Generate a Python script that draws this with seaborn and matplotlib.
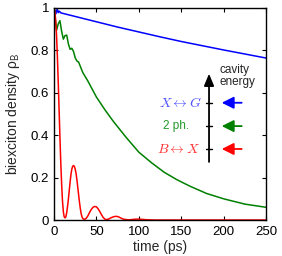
import matplotlib
matplotlib.use("Agg")
import matplotlib.pyplot as plt
import seaborn as sns

# values
t_red = [0, 1, 2, 3, 4, 5, 6, 7, 8, 9, 10, 11, 12, 13, 14, 15, 16, 17, 18, 19,
         20, 21, 22, 23, 24, 25, 26, 27, 28, 29, 30, 31, 32, 33, 34, 35, 36.5,
         38, 40, 42, 44, 46, 48, 50, 52, 54, 56, 58, 60, 62, 64, 66, 68, 70, 72,
         74, 76, 78, 80, 82, 85, 88, 92, 96, 100, 104, 110, 120, 250]
rho_red = [1.0, 0.985, 0.94, 0.87, 0.77, 0.65, 0.52, 0.39, 0.27, 0.17, 0.09,
           0.04, 0.015, 0.01, 0.015, 0.035, 0.065, 0.10, 0.14, 0.18, 0.215,
           0.24, 0.253, 0.257, 0.253, 0.24, 0.22, 0.19, 0.155, 0.12, 0.085,
           0.055, 0.03, 0.015, 0.007, 0.004, 0.004, 0.008, 0.02, 0.036, 0.05,
           0.06, 0.064, 0.062, 0.053, 0.04, 0.025, 0.012, 0.004, 0.002, 0.004,
           0.008, 0.012, 0.015, 0.017, 0.017, 0.015, 0.011, 0.007, 0.004,
           0.002, 0.001, 0.002, 0.004, 0.004, 0.003, 0.001, 0.0, 0.0]

t_green = [0, 1.5, 3, 5, 7, 9, 11, 13, 15, 17, 19, 21, 23, 25, 27, 29, 31, 34,
           37, 40, 42, 50, 60, 70, 78, 85, 100, 115, 130, 145, 160, 180, 200,
           225, 250]
rho_green = [1.0, 0.95, 0.895, 0.925, 0.94, 0.89, 0.853, 0.87, 0.872, 0.83,
             0.805, 0.81, 0.795, 0.765, 0.75, 0.745, 0.725, 0.695, 0.675,
             0.655, 0.64, 0.58, 0.52, 0.465, 0.425, 0.39, 0.32, 0.27, 0.225,
             0.19, 0.16, 0.125, 0.1, 0.075, 0.06]

t_blue = [0, 1, 2, 3, 4, 5, 6, 7, 8, 10, 25, 50, 75, 100, 125, 150, 175, 200,
          225, 250]
rho_blue = [1.0, 0.985, 0.972, 0.99, 0.992, 0.978, 0.985, 0.982, 0.977, 0.975,
            0.96, 0.935, 0.91, 0.887, 0.864, 0.842, 0.822, 0.802, 0.783, 0.764]

xticks = [0, 50, 100, 150, 200, 250]
yticks = [0, 0.2, 0.4, 0.6, 0.8, 1]
ytick_labels = ["0", "0.2", "0.4", "0.6", "0.8", "1"]

# cavity energy levels (label, colour, level on the arrow)
level_labels = [r"$X \leftrightarrow G$", "2 ph.", r"$B \leftrightarrow X$"]
level_colors = ["#5050ff", "#22992a", "#ff3030"]
arrow_colors = ["#0000ff", "#008000", "#ff0000"]
level_y = [0.553, 0.443, 0.335]
label_x = [174, 159, 172]
label_size = [10, 8.5, 10]

sns.set_theme(style="ticks")
plt.rcParams["font.family"] = ["Liberation Sans", "DejaVu Sans"]
plt.rcParams["mathtext.fontset"] = "cm"

fig = plt.figure(figsize=(2.82, 2.56), dpi=100)
ax = fig.add_axes([0.1915, 0.1406, 0.7518, 0.8282])

sns.lineplot(x=t_blue, y=rho_blue, color="#0000ff", lw=1.1, ax=ax)
sns.lineplot(x=t_green, y=rho_green, color="#008000", lw=1.1, ax=ax)
sns.lineplot(x=t_red, y=rho_red, color="#ff0000", lw=1.1, ax=ax)

ax.set_xlim(0, 250)
ax.set_ylim(0, 1)
ax.set_xticks(xticks)
ax.set_yticks(yticks)
ax.set_yticklabels(ytick_labels)
ax.tick_params(direction="in", length=3, width=0.8, top=True, right=True,
               labelsize=9.5, colors="black")
ax.tick_params(axis="x", pad=4)
ax.tick_params(axis="y", pad=3.5)
for s in ax.spines.values():
    s.set_linewidth(1.0)
    s.set_color("black")

ax.set_xlabel("time (ps)", fontsize=10, labelpad=2)
ax.set_ylabel(r"biexciton density ρ$_\mathsf{B}$", fontsize=10, labelpad=6)

# energy axis annotation
ax.annotate("", xy=(182.8, 0.69), xytext=(182.8, 0.274),
            arrowprops=dict(arrowstyle="-|>,head_length=0.6,head_width=0.25",
                            color="black", lw=1.3, shrinkA=0, shrinkB=0))
ax.text(195, 0.68, "cavity\nenergy", fontsize=8.5, ha="left", va="center",
        linespacing=1.0)
for lab, c, ac, y, lx, fs in zip(level_labels, level_colors, arrow_colors,
                                 level_y, label_x, label_size):
    ax.plot([179.3, 186.3], [y, y], color="black", lw=1.0)
    ax.text(lx, y, lab, color=c, fontsize=fs, ha="right", va="center")
    ax.annotate("", xy=(197.8, y), xytext=(221.3, y),
                arrowprops=dict(arrowstyle="-|>,head_length=0.6,head_width=0.3",
                                color=ac, lw=1.3, shrinkA=0, shrinkB=0))

fig.savefig("out.png", dpi=100)
